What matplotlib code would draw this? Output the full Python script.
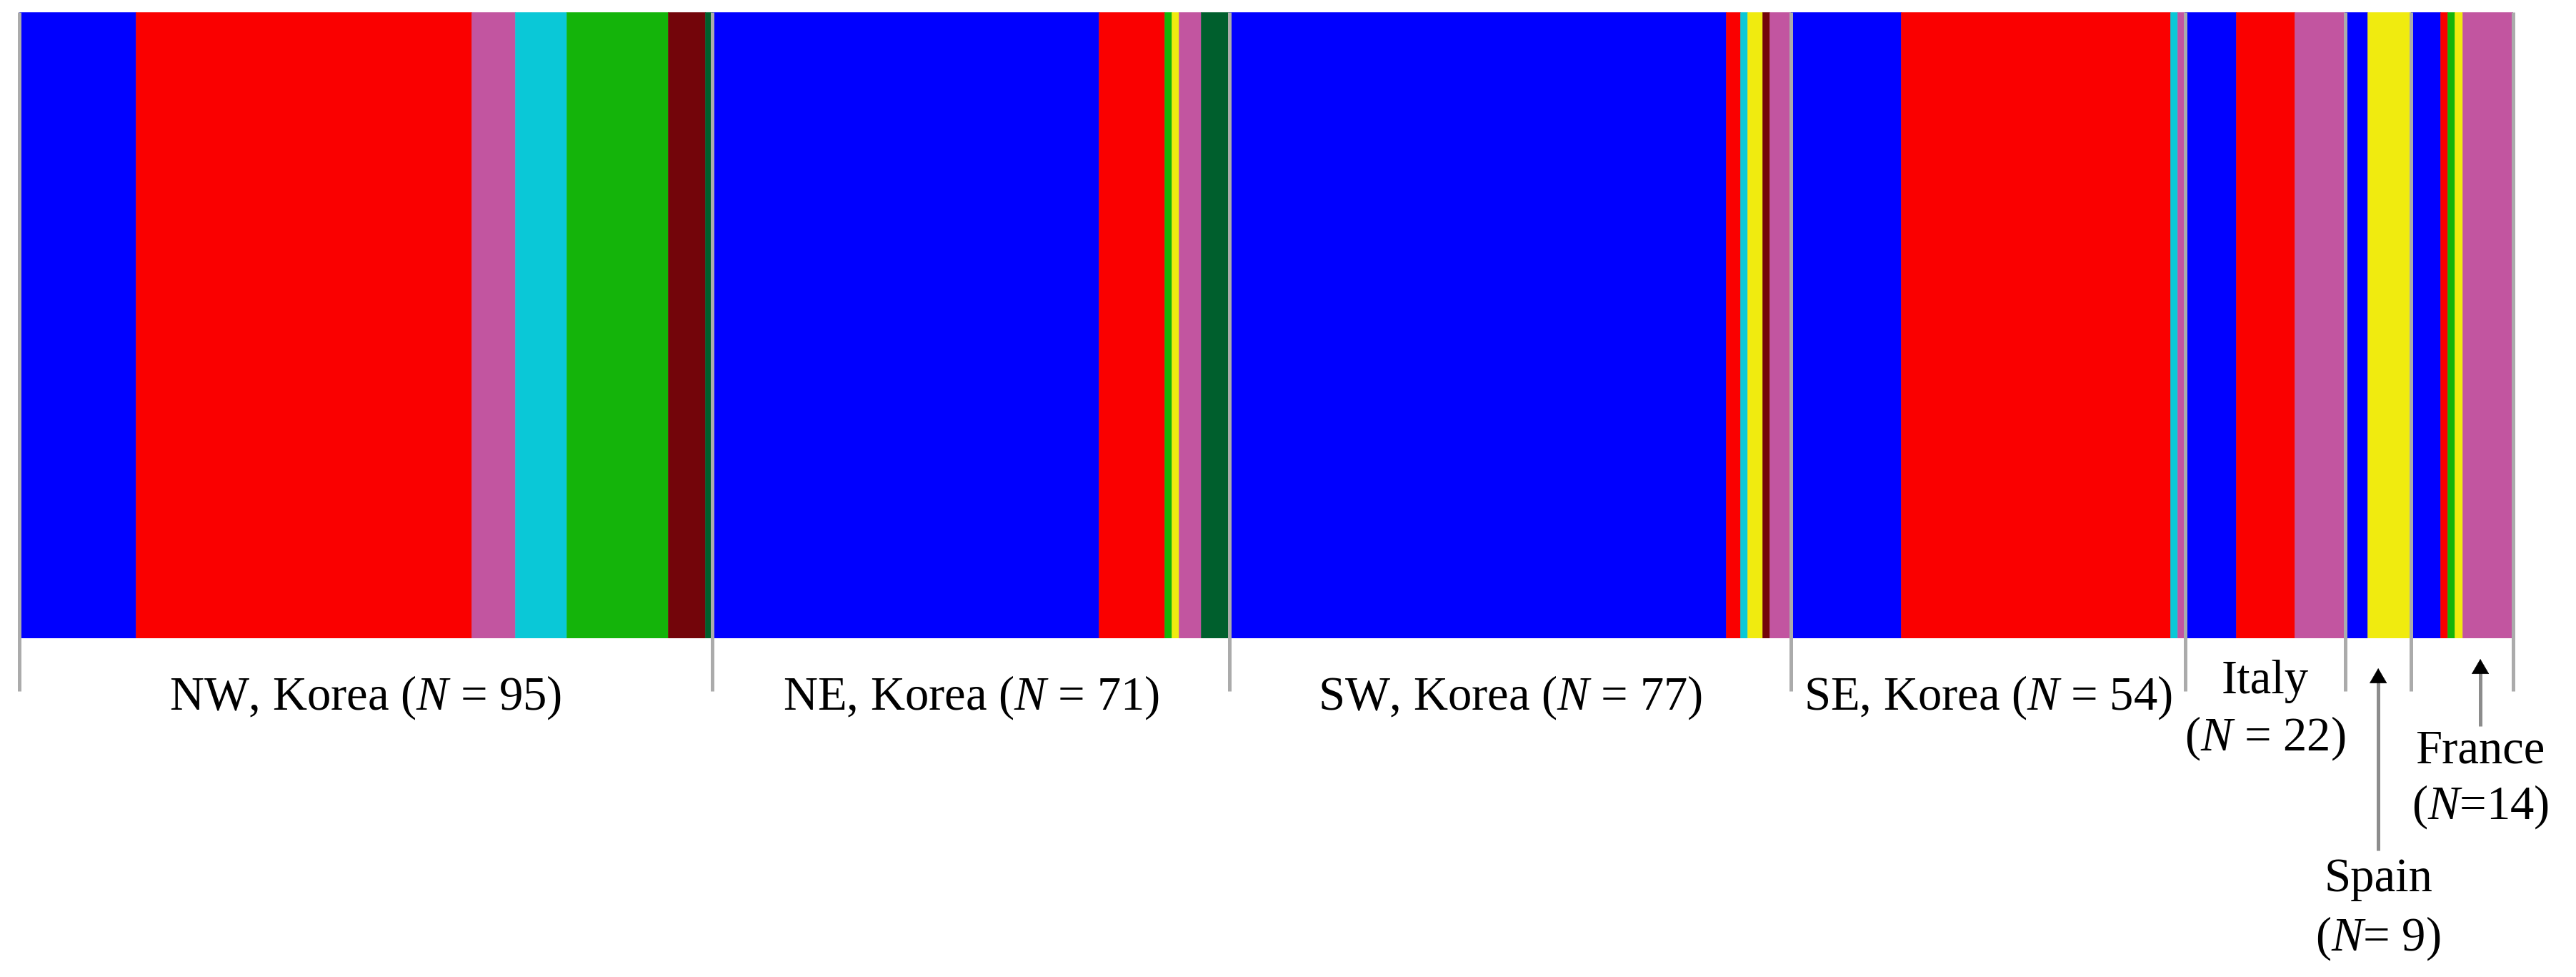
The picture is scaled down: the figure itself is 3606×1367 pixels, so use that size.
import matplotlib.pyplot as plt
import numpy as np

plt.rcParams["font.family"] = ["Liberation Serif", "DejaVu Serif"]
plt.rcParams["mathtext.fontset"] = "custom"
plt.rcParams["mathtext.rm"] = "Liberation Serif"
plt.rcParams["mathtext.it"] = "Liberation Serif:italic"

# cluster colours (STRUCTURE-like assignment)
cluster_colors = {
    "blue": "#0000FF",
    "red": "#FA0000",
    "pink": "#C255A0",
    "cyan": "#0AC8D7",
    "green": "#14B40A",
    "darkred": "#73050A",
    "darkgreen": "#005F2D",
    "yellow": "#F0EB0F",
}

# sample sizes per population
pop_sizes = [95, 71, 77, 54, 22, 9, 14]

# ordered cluster runs inside each population (number of individuals)
nw_clusters = ["blue", "red", "pink", "cyan", "green", "darkred", "darkgreen"]
nw_counts = [16, 46, 6, 7, 14, 5, 1]
ne_clusters = ["blue", "red", "green", "yellow", "pink", "darkgreen"]
ne_counts = [53, 9, 1, 1, 3, 4]
sw_clusters = ["blue", "red", "cyan", "yellow", "darkred", "pink"]
sw_counts = [68, 2, 1, 2, 1, 3]
se_clusters = ["blue", "red", "cyan", "pink"]
se_counts = [15, 37, 1, 1]
it_clusters = ["blue", "red", "pink"]
it_counts = [7, 8, 7]
sp_clusters = ["blue", "yellow"]
sp_counts = [3, 6]
fr_clusters = ["blue", "red", "green", "yellow", "pink"]
fr_counts = [4, 1, 1, 1, 7]

main_labels = ["NW, Korea ($N$ = 95)", "NE, Korea ($N$ = 71)",
               "SW, Korea ($N$ = 77)", "SE, Korea ($N$ = 54)"]


def main():
    W, H = 3606, 1367
    fig = plt.figure(figsize=(W / 100, H / 100), dpi=100)
    left, right, top, bottom = 27, 3518, 17, 893
    ax = fig.add_axes([left / W, (H - bottom) / H, (right - left) / W, (bottom - top) / H])

    def py(ypix):
        # pixel row -> axes y
        return (bottom - ypix) / (bottom - top)

    runs = [(nw_clusters, nw_counts), (ne_clusters, ne_counts), (sw_clusters, sw_counts),
            (se_clusters, se_counts), (it_clusters, it_counts), (sp_clusters, sp_counts),
            (fr_clusters, fr_counts)]

    start = 0
    for clusters, counts in runs:
        for c, n in zip(clusters, counts):
            ax.bar(start, 1, width=n, align="edge", color=cluster_colors[c],
                   edgecolor=cluster_colors[c], linewidth=0.4)
            start += n

    bounds = np.concatenate([[0], np.cumsum(pop_sizes)])
    ax.set_xlim(0, bounds[-1])
    ax.set_ylim(0, 1)
    ax.axis("off")

    ax.vlines(bounds, py(967), 1.0, color="#ABABAB", lw=3.6, clip_on=False, zorder=5)

    centers = (bounds[:-1] + bounds[1:]) / 2
    fs = 48
    for i, lab in enumerate(main_labels):
        ax.text(centers[i], py(993), lab, ha="center", va="baseline", fontsize=fs, clip_on=False)

    # Italy
    ax.text(centers[4], py(970), "Italy", ha="center", va="baseline", fontsize=fs)
    ax.text(centers[4], py(1050), "($N$ = 22)", ha="center", va="baseline", fontsize=fs)

    # Spain
    ax.text(centers[5], py(1247), "Spain", ha="center", va="baseline", fontsize=fs)
    ax.text(centers[5], py(1330), "($N$= 9)", ha="center", va="baseline", fontsize=fs)

    # France (label sits under the pink part)
    fr_x = bounds[6] + 9.5
    ax.text(fr_x, py(1068), "France", ha="center", va="baseline", fontsize=fs)
    ax.text(fr_x, py(1146), "($N$=14)", ha="center", va="baseline", fontsize=fs)

    # arrows: grey shaft, black head
    for x, tip, tail in [(centers[5], 935, 1190), (fr_x, 922, 1016)]:
        ax.plot([x, x], [py(tail), py(tip + 15)], color="#8C8C8C", lw=3.6,
                clip_on=False, solid_capstyle="butt")
        ax.annotate("", xy=(x, py(tip)), xytext=(x, py(tip + 20)),
                    arrowprops=dict(arrowstyle="-|>,head_length=0.72,head_width=0.42",
                                    mutation_scale=20, color="black", lw=0.5,
                                    shrinkA=0, shrinkB=0),
                    annotation_clip=False)

    fig.savefig("out.png", dpi=100, facecolor="white")


if __name__ == "__main__":
    main()
